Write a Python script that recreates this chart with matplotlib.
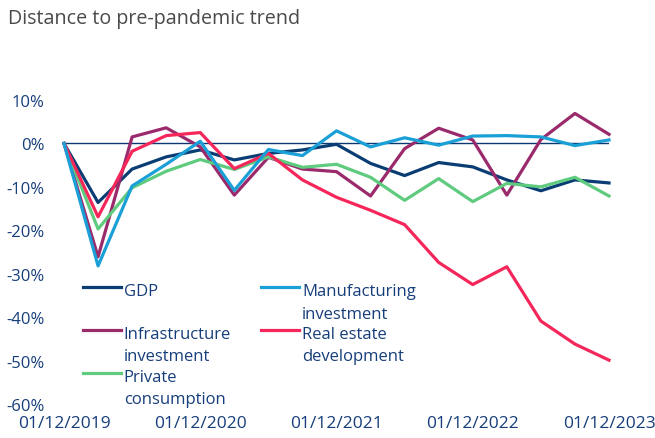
import matplotlib
matplotlib.use("Agg")
import matplotlib.pyplot as plt
import numpy as np
from matplotlib.legend_handler import HandlerLine2D

plt.rcParams['font.family'] = ['Open Sans', 'DejaVu Sans']

# quarterly observations, Dec 2019 .. Dec 2023
quarters = np.arange(17)
tick_pos = [0, 4, 8, 12, 16]
tick_labels = ["01/12/2019", "01/12/2020", "01/12/2021", "01/12/2022", "01/12/2023"]

gdp = [0, -13.6, -5.9, -3.1, -1.5, -3.8, -2.3, -1.5, -0.2, -4.6, -7.4, -4.4, -5.4, -8.4, -10.9, -8.4, -9.1]
manufacturing = [0, -28.2, -9.8, -4.8, 0.5, -10.8, -1.4, -2.8, 2.9, -0.8, 1.3, -0.4, 1.7, 1.8, 1.5, -0.5, 0.8]
infrastructure = [0, -26.1, 1.5, 3.6, -0.8, -11.9, -3.2, -5.9, -6.5, -12.1, -1.2, 3.5, 0.8, -11.9, 0.9, 6.9, 2.1]
real_estate = [0, -16.9, -1.8, 1.8, 2.5, -5.8, -2.3, -8.4, -12.4, -15.4, -18.7, -27.4, -32.5, -28.4, -40.9, -46.2, -49.9]
consumption = [0, -19.7, -10.2, -6.4, -3.7, -6.0, -3.1, -5.5, -4.8, -7.8, -13.1, -8.1, -13.4, -9.2, -10.0, -7.8, -12.1]

navy = "#0b3a73"
text_col = "#163e7a"
c_gdp = "#0a3d73"
c_man = "#1a9fd6"
c_inf = "#9a2a6c"
c_re = "#f5265a"
c_con = "#5ecb7f"


class FirstLineHandler(HandlerLine2D):
    # put the legend line next to the first line of a two-line label
    def create_artists(self, legend, orig_handle, xdescent, ydescent,
                       width, height, fontsize, trans):
        return super().create_artists(legend, orig_handle, xdescent,
                                      ydescent - 22, width, height,
                                      fontsize, trans)


W, H = 655, 439
fig = plt.figure(figsize=(W / 100, H / 100), dpi=100)
ax = fig.add_axes([64 / W, (H - 405) / H, (609 - 64) / W, (405 - 101) / H])

lw = 2.3
l_gdp, = ax.plot(quarters, gdp, color=c_gdp, lw=lw, clip_on=False)
l_inf, = ax.plot(quarters, infrastructure, color=c_inf, lw=lw, clip_on=False)
l_con, = ax.plot(quarters, consumption, color=c_con, lw=lw, clip_on=False)
l_re, = ax.plot(quarters, real_estate, color=c_re, lw=lw, clip_on=False)
l_man, = ax.plot(quarters, manufacturing, color=c_man, lw=lw, clip_on=False)
ax.axhline(0, color=navy, lw=1.0, zorder=1)

ax.set_xlim(0, 16)
ax.set_ylim(-60, 10)
ax.set_yticks(np.arange(-60, 11, 10))
ax.set_yticklabels([f"{v}%" for v in range(-60, 11, 10)])
ax.set_xticks(tick_pos)
ax.set_xticklabels(tick_labels)
ax.tick_params(axis='y', length=0, pad=14, labelsize=12, labelcolor=text_col)
ax.tick_params(axis='x', length=0, pad=8, labelsize=12.5, labelcolor=text_col)
for s in ax.spines.values():
    s.set_visible(False)

fig.text(8 / W, 1 - 19 / H, "Distance to pre-pandemic trend", fontsize=14.2,
         color="#4a4a4a", va="center", ha="left")

handler = FirstLineHandler()
leg = ax.legend([l_gdp, l_inf, l_con, l_man, l_re],
                ["GDP\n", "Infrastructure\ninvestment", "Private\nconsumption",
                 "Manufacturing\ninvestment", "Real estate\ndevelopment"],
                ncol=2, loc="upper left", bbox_to_anchor=(83 / W, 1 - 284 / H),
                bbox_transform=fig.transFigure, frameon=False, fontsize=12,
                labelcolor=text_col, handlelength=2.25, handletextpad=0.2,
                columnspacing=1.8, labelspacing=0.25, borderpad=0, borderaxespad=0,
                handler_map={l: handler for l in [l_gdp, l_inf, l_con, l_man, l_re]})
for t in leg.get_texts():
    t.set_linespacing(1.55)

fig.savefig("out.png", dpi=100)
